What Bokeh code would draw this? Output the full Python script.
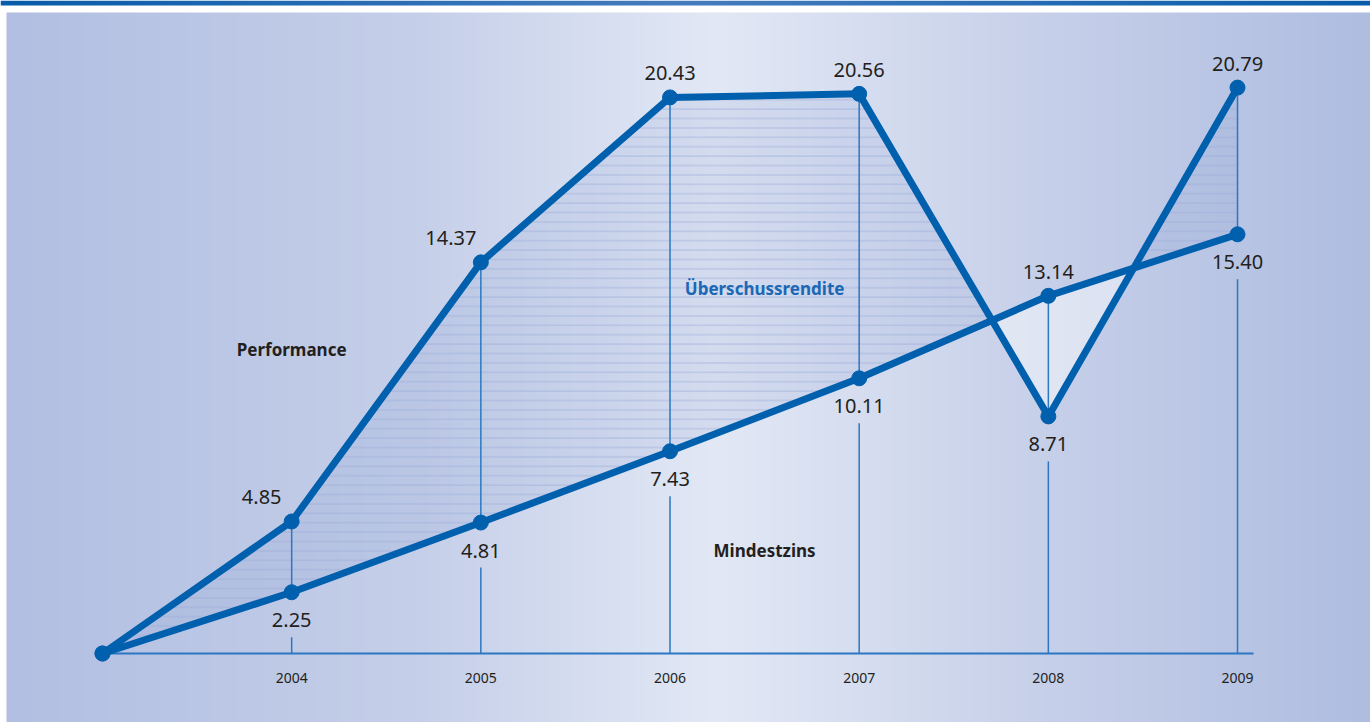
import numpy as np
from bokeh.plotting import figure
from bokeh.models import Range1d
from bokeh.core.properties import value
from bokeh.embed import file_html
from bokeh.resources import INLINE

# ---------------- data ----------------
years = [2003, 2004, 2005, 2006, 2007, 2008, 2009]
performance = [0.0, 4.85, 14.37, 20.43, 20.56, 8.71, 20.79]
mindestzins = [0.0, 2.25, 4.81, 7.43, 10.11, 13.14, 15.40]
tick_years = [2004, 2005, 2006, 2007, 2008, 2009]
tick_labels = ["2004", "2005", "2006", "2007", "2008", "2009"]
name_performance = "Performance"
name_mindestzins = "Mindestzins"
name_excess = "Überschussrendite"

# ---------------- layout / style ----------------
W, H = 1370, 722
X0_PX = 102.0      # screen x of first year
STEP_PX = 189.17   # px per year
BASE_PX = 653.0    # screen y of value 0
UNIT_PX = 27.22    # px per unit

x_start = years[0] - X0_PX / STEP_PX
x_end = x_start + W / STEP_PX
y_start = -(H - BASE_PX) / UNIT_PX
y_end = y_start + H / UNIT_PX


def px_x(px):
    return x_start + px / STEP_PX


def px_y(py):
    return y_end - py / UNIT_PX


LINE_BLUE = "#0060ae"
THIN_BLUE = "#2b77c2"
TEXT_DARK = "#231f20"
FONT = value("Noto Sans")

p = figure(width=W, height=H, x_range=Range1d(x_start, x_end),
           y_range=Range1d(y_start, y_end), output_backend="svg",
           toolbar_location=None, min_border=0, x_axis_type=None,
           y_axis_type=None)
p.grid.visible = False
p.outline_line_color = None
p.background_fill_color = "white"
p.border_fill_color = "white"


def gradient(stops, n):
    pos = np.linspace(0.0, 1.0, n)
    img = np.zeros((1, n), dtype=np.uint32)
    view = img.view(dtype=np.uint8).reshape((1, n, 4))
    sp = [s[0] for s in stops]
    for c in range(3):
        view[0, :, c] = np.interp(pos, sp, [s[1][c] for s in stops]).astype(np.uint8)
    view[0, :, 3] = 255
    return img


panel_stops = [(0.0, (178, 191, 226)), (0.3, (197, 207, 233)),
               (0.52, (226, 232, 245)), (0.75, (200, 209, 234)),
               (1.0, (175, 189, 225))]
bar_stops = [(0.0, (8, 92, 170)), (0.5, (70, 124, 190)), (1.0, (8, 92, 170))]

# background panel
p.image_rgba(image=[gradient(panel_stops, 1364)], x=px_x(6), y=px_y(H),
             dw=(W - 6) / STEP_PX, dh=(H - 12) / UNIT_PX)
# top bar
p.image_rgba(image=[gradient(bar_stops, W)], x=px_x(0), y=px_y(5),
             dw=W / STEP_PX, dh=5 / UNIT_PX)

# ---------------- areas between curves ----------------
xs, perf_d, min_d = [], [], []
for i in range(len(years)):
    if i > 0:
        d0 = performance[i - 1] - mindestzins[i - 1]
        d1 = performance[i] - mindestzins[i]
        if d0 * d1 < 0:
            t = d0 / (d0 - d1)
            xc = years[i - 1] + t * (years[i] - years[i - 1])
            yc = mindestzins[i - 1] + t * (mindestzins[i] - mindestzins[i - 1])
            xs.append(xc)
            perf_d.append(yc)
            min_d.append(yc)
    xs.append(years[i])
    perf_d.append(performance[i])
    min_d.append(mindestzins[i])
perf_d = np.array(perf_d)
min_d = np.array(min_d)

p.varea(x=xs, y1=min_d, y2=np.maximum(perf_d, min_d),
        fill_color="#8198d0", fill_alpha=0.14,
        hatch_pattern="horizontal_line", hatch_color="#98aad8",
        hatch_alpha=0.5, hatch_weight=1.3, hatch_scale=9.4)
p.varea(x=xs, y1=perf_d, y2=np.maximum(perf_d, min_d),
        fill_color="white", fill_alpha=0.45)

# ---------------- vertical drop lines ----------------
gap = 45.0 / UNIT_PX
idx = [years.index(y) for y in tick_years]
lo = [min(performance[i], mindestzins[i]) for i in idx]
hi = [max(performance[i], mindestzins[i]) for i in idx]
p.segment(x0=tick_years, y0=lo, x1=tick_years, y1=hi,
          line_color=THIN_BLUE, line_width=1.5)
p.segment(x0=tick_years, y0=[0] * len(lo), x1=tick_years,
          y1=[v - gap for v in lo], line_color=THIN_BLUE, line_width=1.5)
# baseline
p.segment(x0=[years[0]], y0=[0], x1=[years[-1] + 16 / STEP_PX], y1=[0],
          line_color=THIN_BLUE, line_width=2)

# ---------------- lines ----------------
for series in (mindestzins, performance):
    p.line(years, series, line_color=LINE_BLUE, line_width=7,
           line_join="round", line_cap="round")
    p.scatter(years, series, size=15, fill_color=LINE_BLUE,
              line_color=LINE_BLUE)

# ---------------- value labels ----------------
lx, ly, lt, ly_off, lx_off = [], [], [], [], []
for i in idx:
    for s, other in ((performance, mindestzins), (mindestzins, performance)):
        v = s[i]
        above = v >= other[i]
        steep_next = i + 1 < len(years) and (s[i + 1] - v) > 3
        lx.append(years[i])
        ly.append(v)
        lt.append(f"{v:.2f}")
        ly_off.append(-24 if above else 28)
        lx_off.append(-30 if (above and steep_next) else 0)
p.text(x=lx, y=ly, text=lt, x_offset=lx_off, y_offset=ly_off,
       text_align="center", text_baseline="middle", text_font=FONT,
       text_font_size="20px", text_color=TEXT_DARK)

# year labels
p.text(x=tick_years, y=[0] * len(tick_years), text=tick_labels, y_offset=24,
       text_align="center", text_baseline="middle", text_font=FONT,
       text_font_size="14px", text_color=TEXT_DARK)

# series names
p.text(x=[2004], y=[px_y(349)], text=[name_performance], text_align="center",
       text_baseline="middle", text_font=FONT, text_font_size="17px",
       text_font_style="bold", text_color=TEXT_DARK)
p.text(x=[2006.5], y=[px_y(550)], text=[name_mindestzins], text_align="center",
       text_baseline="middle", text_font=FONT, text_font_size="17px",
       text_font_style="bold", text_color=TEXT_DARK)
p.text(x=[2006.5], y=[px_y(288)], text=[name_excess], text_align="center",
       text_baseline="middle", text_font=FONT, text_font_size="17px",
       text_font_style="bold", text_color="#1a68b5")

open("out.html", "w").write(file_html(p, INLINE))
